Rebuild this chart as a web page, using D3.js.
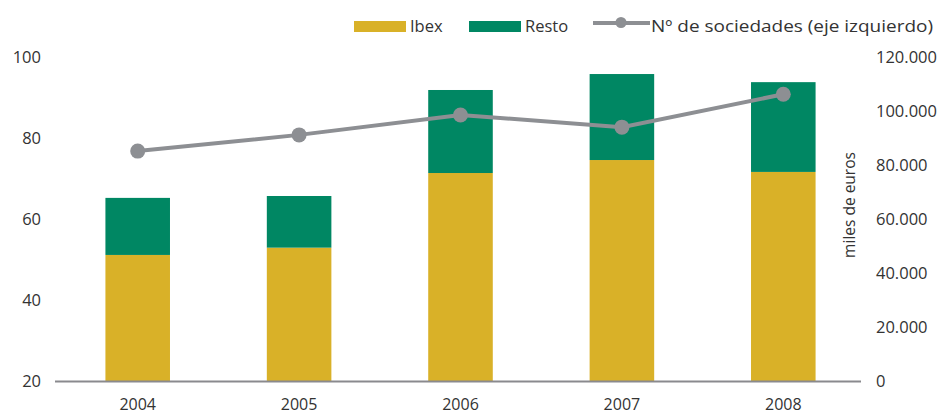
<!DOCTYPE html>
<html><head><meta charset="utf-8">
<script src="https://cdn.jsdelivr.net/npm/d3@7"></script>
<style>body{margin:0;background:#fff}svg{display:block}text{font-family:"Open Sans",sans-serif;fill:#333}</style>
</head><body><svg id="c" width="945" height="415"></svg>
<script>
const years = ["2004","2005","2006","2007","2008"];
const ibex = [46800, 49500, 77100, 81900, 77500];
const resto = [21100, 19100, 30700, 31800, 33200];
const sociedades = [76.8, 80.8, 85.7, 82.7, 90.8];
const leftTicks = [20, 40, 60, 80, 100];
const rightTicks = [0, 20000, 40000, 60000, 80000, 100000, 120000];
const legendLabels = ["Ibex", "Resto", "Nº de sociedades (eje izquierdo)"];
const colors = {ibex:"#D9B128", resto:"#008763", line:"#8D8F93", axis:"#8A8A8E"};

const svg = d3.select("#c");
const x = d3.scaleBand().domain(years).range([57, 864]).paddingInner(0.6).paddingOuter(0.3);
const yL = d3.scaleLinear().domain([20, 100]).range([381.5, 57]);
const yR = d3.scaleLinear().domain([0, 120000]).range([381.5, 57]);

const data = years.map((y, i) => ({year: y, ibex: ibex[i], resto: resto[i]}));
const stack = d3.stack().keys(["ibex", "resto"])(data);
svg.append("g").selectAll("g").data(stack).join("g")
  .attr("fill", d => colors[d.key])
  .selectAll("rect").data(d => d).join("rect")
  .attr("x", d => x(d.data.year))
  .attr("width", x.bandwidth())
  .attr("y", d => yR(d[1]))
  .attr("height", d => yR(d[0]) - yR(d[1]));

// baseline
svg.append("line").attr("x1", 55).attr("x2", 861).attr("y1", 381.5).attr("y2", 381.5)
  .attr("stroke", colors.axis).attr("stroke-width", 2);

// axis labels
const fmt = d3.formatLocale({decimal: ",", thousands: ".", grouping: [3], currency: ["", "€"]}).format(",d");
svg.append("g").selectAll("text").data(leftTicks).join("text")
  .attr("x", 41).attr("y", d => yL(d)).attr("dy", "0.36em")
  .attr("text-anchor", "end").style("font-size", "16.5px").text(d => d);
svg.append("g").selectAll("text").data(rightTicks).join("text")
  .attr("x", 876).attr("y", d => yR(d)).attr("dy", "0.36em")
  .attr("text-anchor", "start").style("font-size", "16.5px").text(d => fmt(d));

// x labels
svg.append("g").selectAll("text").data(years).join("text")
  .attr("x", d => x(d) + x.bandwidth() / 2).attr("y", 409.5)
  .attr("text-anchor", "middle").style("font-size", "16px").text(d => d);

// right axis title
svg.append("text").attr("transform", "translate(855,205) rotate(-90)")
  .attr("text-anchor", "middle").style("font-size", "15.5px").text("miles de euros");

// line
const line = d3.line().x((d, i) => x(years[i]) + x.bandwidth() / 2).y(d => yL(d));
svg.append("path").datum(sociedades).attr("d", line)
  .attr("fill", "none").attr("stroke", colors.line).attr("stroke-width", 4);
svg.append("g").selectAll("circle").data(sociedades).join("circle")
  .attr("cx", (d, i) => x(years[i]) + x.bandwidth() / 2).attr("cy", d => yL(d))
  .attr("r", 7.5).attr("fill", colors.line);

// legend
const lg = svg.append("g");
lg.append("rect").attr("x", 354).attr("y", 21).attr("width", 52).attr("height", 11).attr("fill", colors.ibex);
lg.append("text").attr("x", 410).attr("y", 32).style("font-size", "16.5px").text(legendLabels[0]);
lg.append("rect").attr("x", 469).attr("y", 21).attr("width", 52).attr("height", 11).attr("fill", colors.resto);
lg.append("text").attr("x", 525).attr("y", 32).style("font-size", "16.5px").text(legendLabels[1]);
lg.append("line").attr("x1", 593).attr("x2", 650).attr("y1", 23).attr("y2", 23)
  .attr("stroke", colors.line).attr("stroke-width", 4);
lg.append("circle").attr("cx", 621).attr("cy", 22.5).attr("r", 5.5).attr("fill", colors.line);
lg.append("text").attr("x", 651).attr("y", 32).style("font-size", "16.5px")
  .attr("textLength", 282).attr("lengthAdjust", "spacingAndGlyphs").text(legendLabels[2]);
</script></body></html>
